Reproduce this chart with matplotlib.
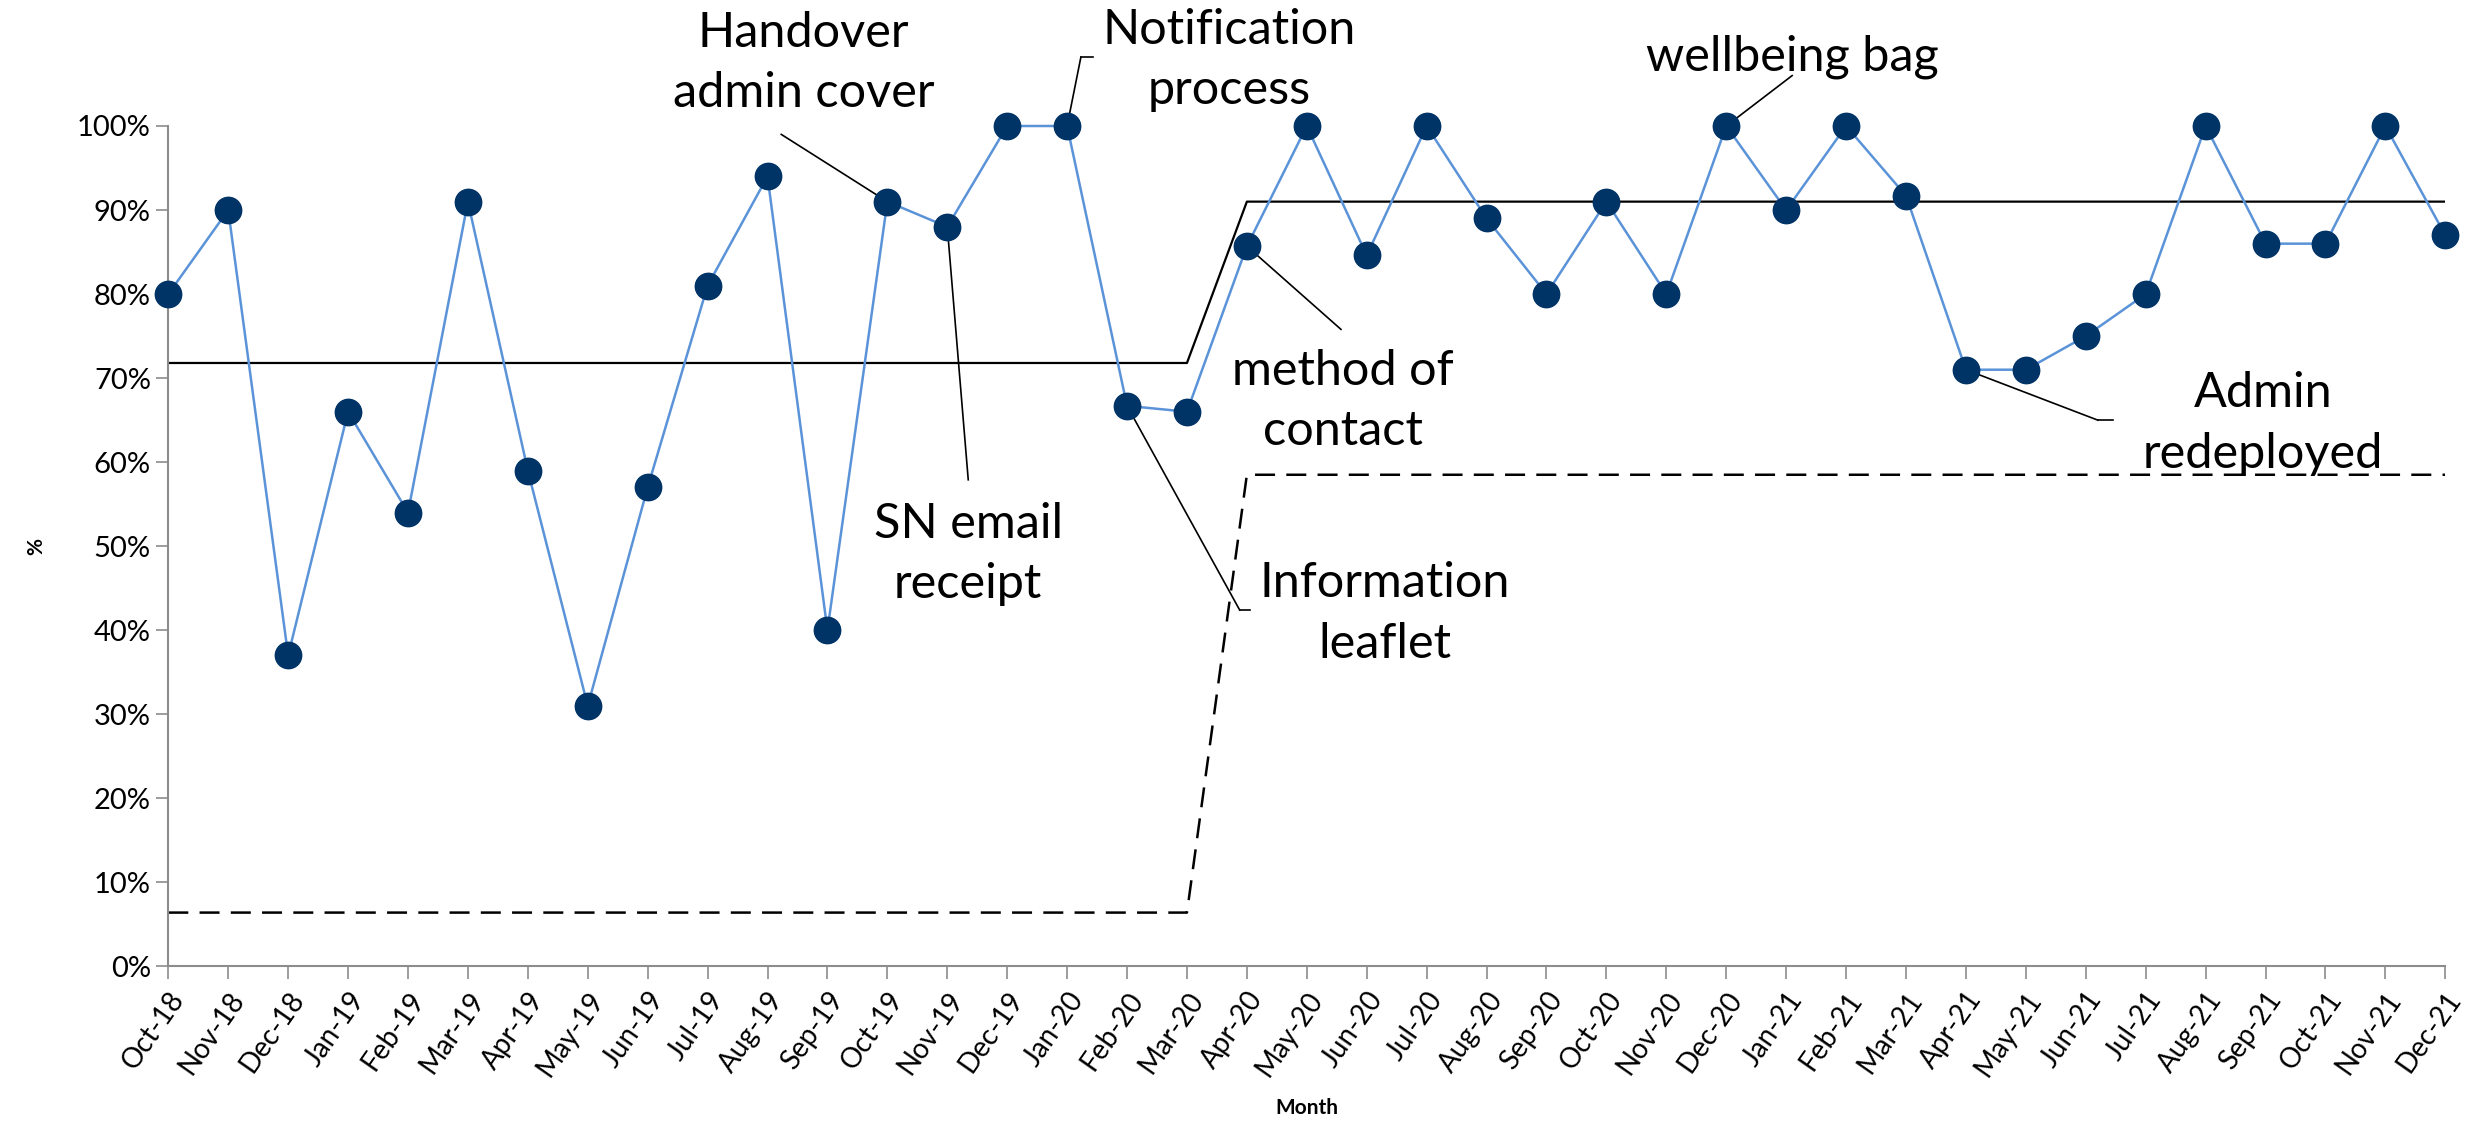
#!/usr/bin/env python
# coding: utf-8

import matplotlib
matplotlib.use("Agg")
import matplotlib.pyplot as plt

months = [
    "Oct-18", "Nov-18", "Dec-18", "Jan-19", "Feb-19", "Mar-19", "Apr-19",
    "May-19", "Jun-19", "Jul-19", "Aug-19", "Sep-19", "Oct-19", "Nov-19",
    "Dec-19", "Jan-20", "Feb-20", "Mar-20", "Apr-20", "May-20", "Jun-20",
    "Jul-20", "Aug-20", "Sep-20", "Oct-20", "Nov-20", "Dec-20", "Jan-21",
    "Feb-21", "Mar-21", "Apr-21", "May-21", "Jun-21", "Jul-21", "Aug-21",
    "Sep-21", "Oct-21", "Nov-21", "Dec-21",
]
pct = [
    80, 90, 37, 66, 54, 91, 59, 31, 57, 81, 94, 40, 91, 88, 100, 100, 66.7,
    66, 85.7, 100, 84.6, 100, 89, 80, 91, 80, 100, 90, 100, 91.7, 71, 71,
    75, 80, 100, 86, 86, 100, 87,
]
centre = [71.8] * 18 + [91.0] * 21
lower = [6.4] * 18 + [58.5] * 21

# annotations: text, text position (x idx, y %), point index, leader start, elbow end
notes = [
    ("Handover\nadmin cover", (10.6, 107.5), 12, (10.23, 99.0), None),
    ("Notification\nprocess", (17.7, 107.9), 15, (15.23, 108.2), 15.44),
    ("SN email\nreceipt", (13.35, 49.1), 13, (13.35, 57.9), None),
    ("method of\ncontact", (19.6, 67.3), 18, (19.57, 75.8), None),
    ("Information\nleaflet", (20.3, 42.0), 16, (17.88, 42.4), 18.05),
    ("wellbeing bag", (27.1, 108.2), 26, (27.1, 106.0), None),
    ("Admin\nredeployed", (34.96, 64.6), 30, (32.2, 65.0), 32.46),
]

plt.rcParams["font.family"] = ["Lato", "DejaVu Sans"]

fig = plt.figure(figsize=(24.75, 11.25), dpi=100)
ax = fig.add_axes([0.068, 0.141, 0.920, 0.747])

x = list(range(len(months)))
ax.plot(x, centre, color="black", lw=1.6, zorder=2)
ax.plot(x, lower, color="black", lw=1.8, ls=(0, (8, 4.5)), zorder=2)
ax.plot(x, pct, color="#5b93d8", lw=1.8, marker="o", ms=19,
        mfc="#003366", mec="#003366", zorder=4, clip_on=False)

for text, tpos, idx, start, elbow in notes:
    ax.plot([start[0], idx], [start[1], pct[idx]], color="black", lw=1.2,
            zorder=3, clip_on=False)
    if elbow is not None:
        ax.plot([start[0], elbow], [start[1], start[1]], color="black",
                lw=1.2, zorder=3, clip_on=False)
    ax.text(tpos[0], tpos[1], text, ha="center", va="center", fontsize=35,
            linespacing=1.45, clip_on=False)

ax.set_xlim(0, len(months) - 1)
ax.set_ylim(0, 100)
ax.set_yticks(range(0, 101, 10))
ax.set_yticklabels([f"{v}%" for v in range(0, 101, 10)], fontsize=21)
ax.set_xticks(x)
ax.set_xticklabels(months, rotation=55, ha="right", rotation_mode="anchor",
                   fontsize=20)

for side in ["top", "right"]:
    ax.spines[side].set_visible(False)
for side in ["left", "bottom"]:
    ax.spines[side].set_color("#8c8c8c")
    ax.spines[side].set_linewidth(1.5)
ax.tick_params(axis="both", colors="#8c8c8c", length=9, width=1.2,
               labelcolor="black")
ax.tick_params(axis="x", pad=6)

ax.set_ylabel("%", fontsize=15, fontweight="bold", labelpad=22)
ax.set_xlabel("Month", fontsize=15, fontweight="bold", labelpad=12)

fig.savefig("out.png", dpi=100)
